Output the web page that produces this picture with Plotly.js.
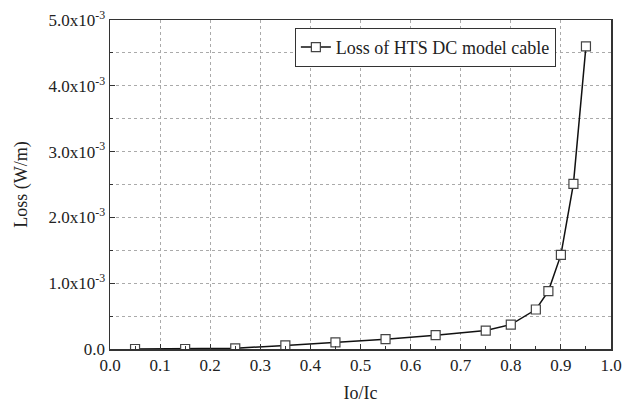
<!DOCTYPE html>
<html><head><meta charset="utf-8">
<script src="https://cdn.plot.ly/plotly-3.0.1.min.js"></script>
<style>body{margin:0;background:#fff}#c{width:622px;height:403px}</style>
</head><body><div id="c"></div>
<script>
const seriesName = "Loss of HTS DC model cable";
const ioIc = [0.05, 0.15, 0.25, 0.35, 0.45, 0.55, 0.65, 0.75, 0.8, 0.85, 0.875, 0.9, 0.925, 0.95];
const lossWm = [0.0, 0.0, 0.01e-3, 0.055e-3, 0.1e-3, 0.15e-3, 0.21e-3, 0.28e-3, 0.37e-3, 0.6e-3, 0.88e-3, 1.43e-3, 2.51e-3, 4.6e-3];
const yTickVals = [0, 1e-3, 2e-3, 3e-3, 4e-3, 5e-3];
const yTickText = ["0.0", "1.0x10<sup>-3</sup>", "2.0x10<sup>-3</sup>", "3.0x10<sup>-3</sup>", "4.0x10<sup>-3</sup>", "5.0x10<sup>-3</sup>"];
const xTickVals = [0, 0.1, 0.2, 0.3, 0.4, 0.5, 0.6, 0.7, 0.8, 0.9, 1.0];
const xTickText = ["0.0", "0.1", "0.2", "0.3", "0.4", "0.5", "0.6", "0.7", "0.8", "0.9", "1.0"];

const fam = "Liberation Serif, Times New Roman, serif";
const font = {family: fam, color: "#222", size: 17};
const trace = {
  x: ioIc, y: lossWm, name: seriesName, type: "scatter", mode: "lines+markers",
  line: {color: "#111", width: 1.5},
  marker: {symbol: "square", size: 9, color: "#fff", line: {color: "#444", width: 1.2}},
  showlegend: true
};
const layout = {
  width: 622, height: 403,
  margin: {l: 110, r: 11, t: 20, b: 54},
  paper_bgcolor: "#fff", plot_bgcolor: "#fff",
  font: font,
  showlegend: true,
  legend: {x: 0.369, y: 0.976, xanchor: "left", yanchor: "top", bordercolor: "#333", borderwidth: 1,
           bgcolor: "#fff", font: {family: fam, size: 18, color: "#222"}, tracegroupgap: 0, itemwidth: 30},
  xaxis: {
    range: [0, 1.0], tickvals: xTickVals, ticktext: xTickText,
    ticks: "inside", ticklen: 5, tickwidth: 1, tickcolor: "#333",
    showline: true, linecolor: "#333", linewidth: 1.5, mirror: true,
    showgrid: true, gridcolor: "#aaa", griddash: "dot", gridwidth: 1,
    zeroline: false,
    minor: {dtick: 0.05, tick0: 0, ticks: "inside", ticklen: 3, tickcolor: "#333", showgrid: false},
    title: {text: "Io/Ic", font: {family: fam, size: 18, color: "#222"}, standoff: 12},
    tickfont: {family: fam, size: 17, color: "#222"}
  },
  yaxis: {
    range: [0, 5e-3], tickvals: yTickVals, ticktext: yTickText,
    ticks: "inside", ticklen: 5, tickwidth: 1, tickcolor: "#333",
    showline: true, linecolor: "#333", linewidth: 1.5, mirror: true,
    showgrid: true, gridcolor: "#aaa", griddash: "dot", gridwidth: 1,
    zeroline: false,
    minor: {dtick: 0.5e-3, tick0: 0, ticks: "inside", ticklen: 3, tickcolor: "#333",
            showgrid: true, gridcolor: "#aaa", griddash: "dot", gridwidth: 1},
    title: {text: "Loss (W/m)", font: {family: fam, size: 18, color: "#222"}, standoff: 16},
    tickfont: {family: fam, size: 17, color: "#222"}
  }
};
Plotly.newPlot("c", [trace], layout, {displayModeBar: false, staticPlot: true});
</script></body></html>
